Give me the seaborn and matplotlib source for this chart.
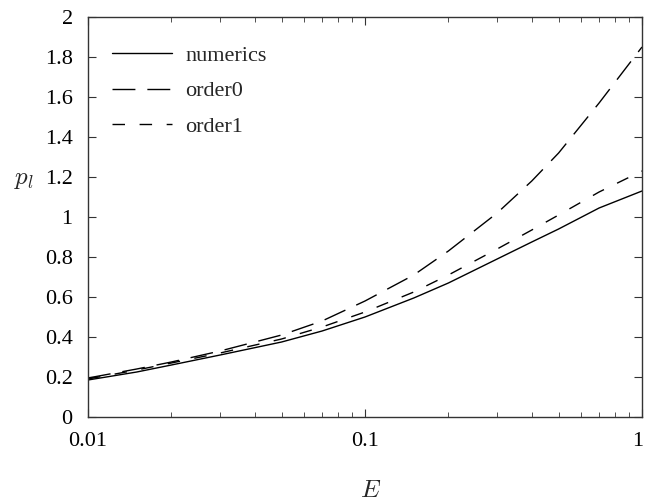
import matplotlib
matplotlib.use("Agg")
import matplotlib.pyplot as plt
import matplotlib.transforms as mtransforms
import seaborn as sns
import pandas as pd
from matplotlib.ticker import FixedLocator, FixedFormatter, LogLocator, NullFormatter

E = [0.01, 0.015, 0.02, 0.03, 0.05, 0.07, 0.1, 0.15, 0.2, 0.3, 0.4, 0.5, 0.7, 1.0]
numerics = [0.185, 0.225, 0.26, 0.31, 0.375, 0.43, 0.50, 0.595, 0.67, 0.79, 0.875, 0.94, 1.045, 1.13]
order0 = [0.195, 0.24, 0.275, 0.33, 0.41, 0.48, 0.58, 0.71, 0.83, 1.02, 1.18, 1.32, 1.57, 1.85]
order1 = [0.19, 0.235, 0.27, 0.32, 0.39, 0.45, 0.525, 0.625, 0.71, 0.84, 0.935, 1.01, 1.125, 1.23]

series_names = ["numerics", "order0", "order1"]
xticks = [0.01, 0.1, 1]
xticklabels = ["0.01", "0.1", "1"]
yticks = [0, 0.2, 0.4, 0.6, 0.8, 1, 1.2, 1.4, 1.6, 1.8, 2]
yticklabels = ["0", "0.2", "0.4", "0.6", "0.8", "1", "1.2", "1.4", "1.6", "1.8", "2"]

sns.set_style("ticks")
plt.rcParams["font.family"] = ["Liberation Serif", "DejaVu Serif"]
plt.rcParams["mathtext.fontset"] = "cm"
plt.rcParams["xtick.direction"] = "in"
plt.rcParams["ytick.direction"] = "in"

fig = plt.figure(figsize=(6.46, 5.01), dpi=100)
ax = fig.add_axes([88 / 646, 1 - 417 / 501, (642 - 88) / 646, (417 - 17) / 501])

styles = {
    "numerics": "-",
    "order0": (0, (16.5, 8.6)),
    "order1": (0, (9, 10.5)),
}
data = {"numerics": numerics, "order0": order0, "order1": order1}
for name in series_names:
    df = pd.DataFrame({"E": E, "p": data[name]})
    sns.lineplot(data=df, x="E", y="p", ax=ax, color="black", linewidth=1.0,
                 linestyle=styles[name], label=name)

ax.set_xscale("log")
ax.set_xlim(0.01, 1)
ax.set_ylim(0, 2)
ax.xaxis.set_major_locator(FixedLocator(xticks))
ax.xaxis.set_major_formatter(FixedFormatter(xticklabels))
ax.xaxis.set_minor_locator(LogLocator(base=10, subs=range(2, 10)))
ax.xaxis.set_minor_formatter(NullFormatter())
ax.yaxis.set_major_locator(FixedLocator(yticks))
ax.yaxis.set_major_formatter(FixedFormatter(yticklabels))

ax.tick_params(axis="both", which="major", direction="in", length=6, width=0.8,
               top=True, right=True, labelsize=16, colors="#333333", labelcolor="black")
ax.tick_params(axis="x", which="minor", direction="in", length=3.5, width=0.6,
               top=True, bottom=True, colors="#333333")
ax.tick_params(axis="x", which="major", pad=11)
ax.tick_params(axis="y", which="major", pad=11)
for sp in ax.spines.values():
    sp.set_visible(True)
    sp.set_color("#333333")
    sp.set_linewidth(1.0)

# nudge the last x tick label so it stays inside the canvas
fig.canvas.draw()
last = ax.xaxis.get_major_ticks()[-1].label1
last.set_transform(last.get_transform() + mtransforms.ScaledTranslation(-4 / 100, 0, fig.dpi_scale_trans))

ax.set_xlabel("$E$", fontsize=18, va="center")
ax.xaxis.set_label_coords((371 - 88) / 554, (417 - 491) / 400)
ax.set_ylabel("$p_l$", fontsize=18, rotation=0, va="center", ha="center")
ax.yaxis.set_label_coords((24 - 88) / 554, (417 - 180) / 400)

leg = ax.legend(loc="upper left", frameon=False, fontsize=16, handlelength=2.7,
                bbox_to_anchor=(0.027, 0.952), borderaxespad=0, labelspacing=0.68,
                handletextpad=0.6)

fig.savefig("out.png", dpi=100)
